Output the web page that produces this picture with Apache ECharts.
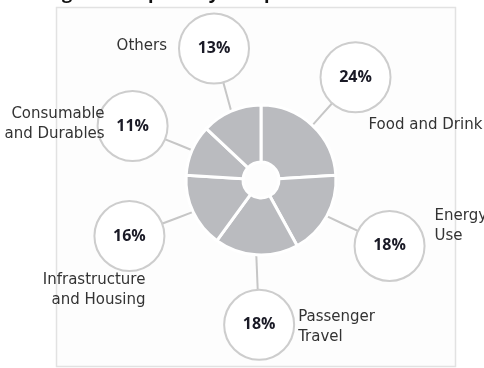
<!DOCTYPE html>
<html>
<head>
<meta charset="utf-8">
<script src="https://cdn.jsdelivr.net/npm/echarts@6/dist/echarts.min.js"></script>
<style>
html,body{margin:0;padding:0;background:#ffffff;}
#chart{width:484px;height:368px;}
</style>
</head>
<body>
<div id="chart"></div>
<script>
// Footprint shares by component (percent), clockwise from 12 o'clock
const categories = ['Food and Drink', 'Energy\nUse', 'Passenger\nTravel', 'Infrastructure\nand Housing', 'Consumable\nand Durables', 'Others'];
const shares = [24, 18, 18, 16, 11, 13];

// Layout of the ring and the callout bubbles
const CX = 261, CY = 180;
const R_IN = 18, R_OUT = 75;
const BUBBLE_DIST = 141, BUBBLE_R = 34;
const bubbleNudge = [[-2, 0], [5, -2], [7, 4], [-4, -4], [1, 2], [9, -2]];
const nameOffset = [
  { x: 13, y: 48, align: 'left' },
  { x: 45, y: -20, align: 'left' },
  { x: 39, y: 2, align: 'left' },
  { x: 16, y: 54, align: 'right' },
  { x: -28, y: -2, align: 'right' },
  { x: -47, y: -2, align: 'right' }
];

function bubbleCenter(i, edgePt) {
  const dx = edgePt[0] - CX, dy = edgePt[1] - CY;
  const len = Math.hypot(dx, dy) || 1;
  return [CX + dx / len * BUBBLE_DIST + bubbleNudge[i][0],
          CY + dy / len * BUBBLE_DIST + bubbleNudge[i][1]];
}

const pieData = categories.map((name, i) => ({ name: name, value: shares[i] }));

const chart = echarts.init(document.getElementById('chart'), null, { renderer: 'canvas' });

chart.setOption({
  animation: false,
  backgroundColor: '#ffffff',
  graphic: [
    {
      type: 'rect', z: 0,
      shape: { x: 56.5, y: 7.5, width: 399, height: 359 },
      style: { fill: '#fdfdfd', stroke: '#e2e2e2', lineWidth: 1.5 }
    },
    {
      type: 'text', z: 1, x: 15, y: -15,
      style: { text: 'Ecological Footprint by Component', font: 'bold 18px "Open Sans", sans-serif', fill: '#111111' }
    }
  ],
  series: [
    {
      // Ring of slices with percentage bubbles
      type: 'pie',
      center: [CX, CY],
      radius: [R_IN, R_OUT],
      startAngle: 90,
      clockwise: true,
      avoidLabelOverlap: false,
      silent: true,
      itemStyle: { color: '#babbbf', borderColor: '#ffffff', borderWidth: 3 },
      label: {
        show: true,
        position: 'outside',
        formatter: '{c}%',
        fontFamily: '"Open Sans", sans-serif',
        fontSize: 16,
        fontWeight: 'bold',
        color: '#1a1a26',
        backgroundColor: '#ffffff',
        borderColor: '#cdcdcd',
        borderWidth: 2,
        borderRadius: BUBBLE_R,
        width: BUBBLE_R * 2,
        height: BUBBLE_R * 2,
        lineHeight: BUBBLE_R * 2,
        align: 'center',
        padding: 0
      },
      labelLine: { show: true, length: 20, length2: 0, lineStyle: { color: '#c6c6c6', width: 2 } },
      labelLayout: function (p) {
        const pts = p.labelLinePoints;
        const edge = pts[0];
        const c = bubbleCenter(p.dataIndex, edge);
        const dx = c[0] - edge[0], dy = c[1] - edge[1];
        const len = Math.hypot(dx, dy) || 1;
        const end = [c[0] - dx / len * BUBBLE_R, c[1] - dy / len * BUBBLE_R];
        return {
          x: c[0], y: c[1], align: 'center', verticalAlign: 'middle',
          labelLinePoints: [edge, [(edge[0] + end[0]) / 2, (edge[1] + end[1]) / 2], end]
        };
      },
      emphasis: { disabled: true },
      data: pieData
    },
    {
      // Same ring, invisible, carrying the category names
      type: 'pie',
      center: [CX, CY],
      radius: [R_IN, R_OUT],
      startAngle: 90,
      clockwise: true,
      avoidLabelOverlap: false,
      silent: true,
      itemStyle: { color: 'rgba(0,0,0,0)', borderWidth: 0 },
      label: {
        show: true,
        position: 'outside',
        formatter: '{b}',
        fontFamily: '"DejaVu Sans", sans-serif',
        fontSize: 15,
        lineHeight: 20,
        color: '#333333'
      },
      labelLine: { show: true, length: 20, length2: 0, lineStyle: { opacity: 0 } },
      labelLayout: function (p) {
        const edge = p.labelLinePoints[0];
        const c = bubbleCenter(p.dataIndex, edge);
        const o = nameOffset[p.dataIndex];
        return { x: c[0] + o.x, y: c[1] + o.y, align: o.align, verticalAlign: 'middle' };
      },
      emphasis: { disabled: true },
      data: pieData
    }
  ]
});
</script>
</body>
</html>
